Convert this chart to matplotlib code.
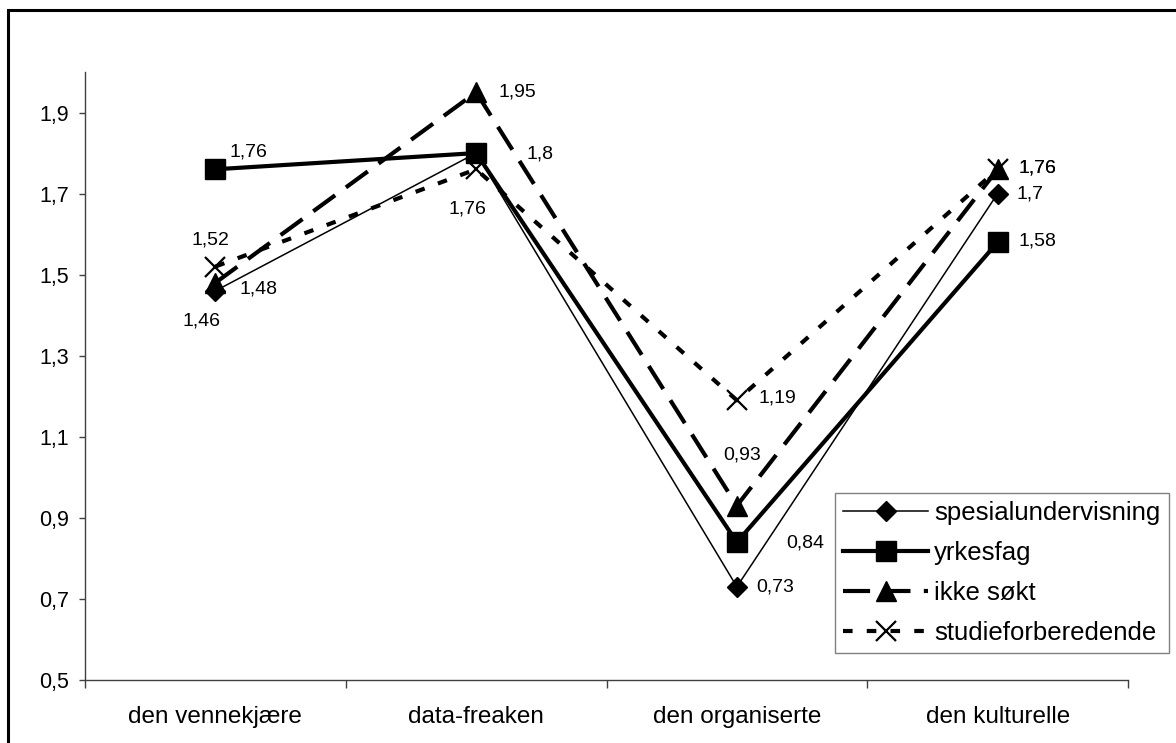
import matplotlib
matplotlib.use("Agg")
import matplotlib.pyplot as plt
import matplotlib.patches as mpatches
from matplotlib.ticker import FuncFormatter, FixedLocator
import numpy as np

plt.rcParams['font.family'] = ['Liberation Sans', 'DejaVu Sans']

# data
categories = ["den vennekjære", "data-freaken", "den organiserte", "den kulturelle"]
series_names = ["spesialundervisning", "yrkesfag", "ikke søkt", "studieforberedende"]
spesial = [1.46, 1.80, 0.73, 1.70]
yrkesfag = [1.76, 1.80, 0.84, 1.58]
ikke_sokt = [1.48, 1.95, 0.93, 1.76]
studie = [1.52, 1.76, 1.19, 1.76]
yticks = [0.5, 0.7, 0.9, 1.1, 1.3, 1.5, 1.7, 1.9]

# styles per series
styles = [
    dict(color='black', lw=1.1, ls='-', marker='D', ms=10.5),
    dict(color='black', lw=3.0, ls='-', marker='s', ms=14),
    dict(color='black', lw=3.0, ls=(0, (6.5, 3.2)), marker='^', ms=14.5),
    dict(color='black', lw=3.0, ls=(0, (2.3, 3.4)), marker='x', ms=14, mew=1.6),
]

# data label offsets in pixels (dx, dy screen-down), None = no label
label_offsets = [
    [(-14, 30), (64, 1), (38, 0), (32, 0)],
    [(33, -17), None, (68, 1), (40, -1)],
    [(43, 6), (41, 0), (5, -51), (40, -1)],
    [(-5, -27), (-9, 40), (40, -2), (40, -1)],
]

def fmt(v):
    return format(v, 'g').replace('.', ',')

fig = plt.figure(figsize=(11.76, 7.43), dpi=100)
ax = fig.add_axes([85 / 1176, 1 - 680 / 743, (1128 - 85) / 1176, (680 - 72) / 743])

x = np.arange(len(categories))
all_series = [spesial, yrkesfag, ikke_sokt, studie]
for vals, name, st, offs in zip(all_series, series_names, styles, label_offsets):
    ax.plot(x, vals, color=st['color'], lw=st['lw'], ls=st['ls'],
            marker=st['marker'], ms=st['ms'], mew=st.get('mew', 1.0),
            mfc='black', mec='black', label=name, dash_capstyle='butt',
            clip_on=False)
    for xi, v, o in zip(x, vals, offs):
        if o is None:
            continue
        ax.annotate(fmt(v), (xi, v), xytext=(o[0], -o[1]), textcoords='offset pixels',
                    ha='center', va='center', fontsize=14, color='black')

ax.set_xlim(-0.5, len(categories) - 0.5)
ax.set_ylim(0.5, 2.0)

ax.set_xticks(x)
ax.set_xticklabels(categories, fontsize=17.5)
ax.xaxis.set_minor_locator(FixedLocator(np.arange(-0.5, len(categories), 1.0)))
ax.tick_params(axis='x', which='major', length=0, pad=19)
ax.tick_params(axis='x', which='minor', length=6, width=1.0, color='#404040', direction='out')

ax.yaxis.set_major_locator(FixedLocator(yticks))
ax.yaxis.set_major_formatter(FuncFormatter(lambda v, p: fmt(round(v, 2))))
ax.tick_params(axis='y', length=4.5, width=1.0, color='#404040', pad=7, labelsize=15.5)

for s in ['top', 'right']:
    ax.spines[s].set_visible(False)
for s in ['left', 'bottom']:
    ax.spines[s].set_color('#404040')
    ax.spines[s].set_linewidth(1.0)

leg = ax.legend(loc='upper left', bbox_to_anchor=(0.719, 0.3076), borderaxespad=0,
                fontsize=18.5, handlelength=3.3, handletextpad=0.25, labelspacing=0.62,
                borderpad=0.32, fancybox=False, frameon=True, framealpha=1)
leg.get_frame().set_edgecolor('#808080')
leg.get_frame().set_linewidth(1.0)

# outer chart frame (cut off at right and bottom)
frame = mpatches.Rectangle((8 / 1176, -0.1), 1.2, 1.1 - 10 / 743, transform=fig.transFigure,
                           fill=False, edgecolor='black', lw=2.2, clip_on=False)
fig.patches.append(frame)

fig.savefig("out.png", dpi=100)
